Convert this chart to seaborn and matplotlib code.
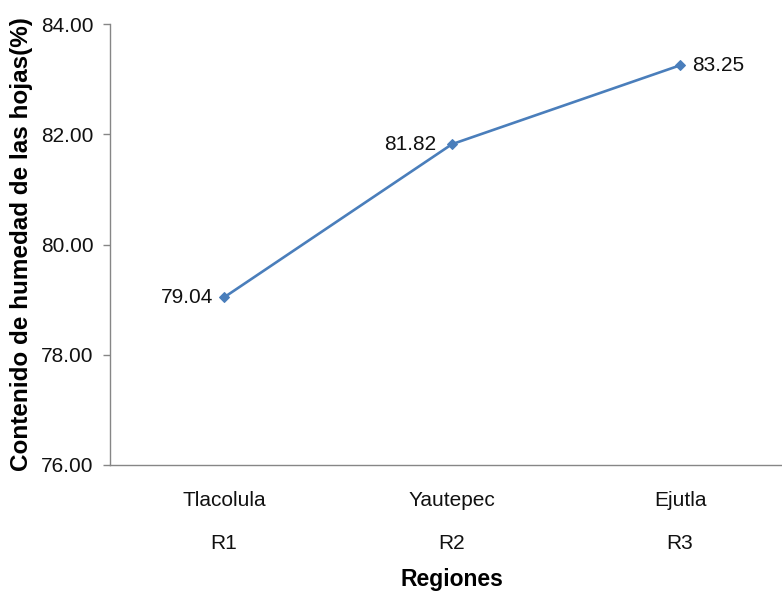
import matplotlib
matplotlib.use("Agg")
import matplotlib.pyplot as plt
import seaborn as sns
import pandas as pd
import numpy as np

regiones = ["Tlacolula", "Yautepec", "Ejutla"]
codigos = ["R1", "R2", "R3"]
humedad = [79.04, 81.82, 83.25]
yticks = [76.0, 78.0, 80.0, 82.0, 84.0]

sns.set_theme(style="white")
plt.rcParams["font.family"] = ["Liberation Sans", "DejaVu Sans"]

df = pd.DataFrame({"pos": np.arange(len(regiones)), "humedad": humedad})

fig = plt.figure(figsize=(7.82, 5.93), dpi=100)
ax = fig.add_axes([110 / 782, 1 - 465 / 593, (794 - 110) / 782, 441 / 593])

line_color = "#4a7ebb"
sns.lineplot(data=df, x="pos", y="humedad", ax=ax, color=line_color,
             linewidth=1.9, marker="D", markersize=5.5,
             markeredgecolor=line_color, markerfacecolor=line_color)

ax.set_xlim(-0.5, 2.5)
ax.set_ylim(76, 84)
ax.set_yticks(yticks)
ax.set_yticklabels([f"{v:.2f}" for v in yticks], fontsize=15, color="#111111")
ax.set_xticks(df["pos"])
ax.set_xticklabels([f"{r}\n\n{c}" for r, c in zip(regiones, codigos)],
                   fontsize=15, color="#111111", linespacing=1.15)
ax.tick_params(axis="x", length=0, pad=19)
ax.tick_params(axis="y", length=5, width=1, color="#868686", pad=7, direction="out", left=True)

for s in ["top", "right"]:
    ax.spines[s].set_visible(False)
for s in ["left", "bottom"]:
    ax.spines[s].set_color("#868686")
    ax.spines[s].set_linewidth(1.0)

offsets = [(-8, 0, "right"), (-11, 0, "right"), (9, 0, "left")]
for x, y, (dx, dy, ha) in zip(df["pos"], humedad, offsets):
    ax.annotate(f"{y:.2f}", xy=(x, y), xytext=(dx, dy), textcoords="offset points",
                ha=ha, va="center", fontsize=15, color="#111111")

ax.set_xlabel("Regiones", fontsize=16.5, fontweight="bold", labelpad=11, color="black")
ax.set_ylabel("Contenido de humedad de las hojas(%)", fontsize=17.5, fontweight="bold",
              color="black")
ax.yaxis.set_label_coords((33 - 110) / 684, 0.5)

fig.savefig("out.png", dpi=100)
